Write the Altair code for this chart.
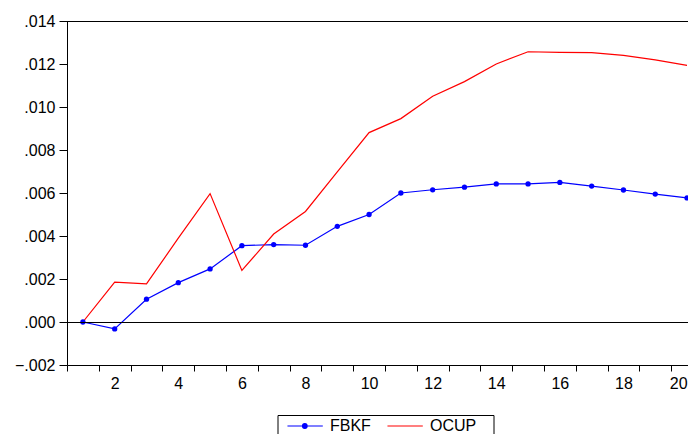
import altair as alt
import pandas as pd

periods = list(range(1, 21))
fbkf = [0.0, -0.00032, 0.00106, 0.00183, 0.00247, 0.00355, 0.00360, 0.00357, 0.00445, 0.00500,
        0.00600, 0.00615, 0.00627, 0.00642, 0.00642, 0.00649, 0.00632, 0.00614, 0.00595, 0.00577]
ocup = [0.0, 0.00185, 0.00177, 0.00390, 0.00597, 0.00240, 0.00409, 0.00514, 0.00698, 0.00881,
        0.00946, 0.01050, 0.01118, 0.01200, 0.01257, 0.01254, 0.01253, 0.01240, 0.01219, 0.01194]
series_names = ["FBKF", "OCUP"]
series_colors = ["#0000FF", "#FF0000"]
y_ticks = [-0.002, 0.0, 0.002, 0.004, 0.006, 0.008, 0.010, 0.012, 0.014]
x_labels = [2, 4, 6, 8, 10, 12, 14, 16, 18, 20]
x_bounds = [0.5 + i for i in range(20)]

df = pd.DataFrame({
    "period": periods * 2,
    "series": ["FBKF"] * 20 + ["OCUP"] * 20,
    "value": fbkf + ocup,
})

FONT = "Liberation Sans"
xscale = alt.Scale(domain=[0.5, 20.03], nice=False, zero=False)
yscale = alt.Scale(domain=[-0.002, 0.014], nice=False, zero=False)
cscale = alt.Scale(domain=series_names, range=series_colors)

sym_fbkf = ("M-0.15,0H4.9 M2.0,0A0.33,0.33 0 1,0 2.66,0A0.33,0.33 0 1,0 2.0,0 "
            "M2.17,0A0.16,0.16 0 1,0 2.49,0A0.16,0.16 0 1,0 2.17,0")
sym_ocup = "M-0.15,0H4.9"
sscale = alt.Scale(domain=series_names, range=[sym_fbkf, sym_ocup])

legend = alt.Legend(
    title=None, orient="none", legendX=210.5, legendY=394, direction="horizontal",
    strokeColor="black", fillColor="white", padding=3, cornerRadius=0,
    symbolSize=196, symbolStrokeWidth=1.2, symbolOpacity=1,
    labelFont=FONT, labelFontSize=16, labelColor="black", labelOffset=33.5,
    columnPadding=9,
    labelExpr="datum.label == 'OCUP' ? 'OCUP\u00a0\u00a0\u00a0\u200b' : datum.label",
)

x_axis = alt.Axis(
    orient="bottom", values=sorted(x_bounds + x_labels), title=None, grid=False,
    domain=True, tickSize=6, labelPadding=4, labelFlush=6, labelOverlap=False,
    tickOpacity={"condition": {"test": "datum.value % 1 == 0", "value": 0}, "value": 1},
    labelExpr="datum.value % 1 == 0 ? format(datum.value, 'd') : ''",
)
y_axis = alt.Axis(orient="left", values=y_ticks, title=None, grid=False,
                  tickSize=8, labelPadding=4, domain=True,
                  labelExpr="replace(format(datum.value, '.3f'), '0.', '.')")
x_enc = alt.X("period:Q", scale=xscale, axis=x_axis)
y_enc = alt.Y("value:Q", scale=yscale, axis=y_axis)
c_enc = alt.Color("series:N", scale=cscale, legend=legend)

base = alt.Chart(df)

lines = base.mark_line(strokeWidth=1.2).encode(x=x_enc, y=y_enc, color=c_enc)

points = base.transform_filter(alt.datum.series == "FBKF").mark_point(
    filled=True, size=28, opacity=1
).encode(x=x_enc, y=y_enc, color=c_enc)

guide_layer = base.mark_point(opacity=0, filled=False).encode(
    x=x_enc, y=y_enc, color=c_enc,
    shape=alt.Shape("series:N", scale=sscale, legend=legend),
)

zero_rule = base.mark_rule(color="black", strokeWidth=1, yOffset=0.5).encode(
    y=alt.YDatum(0, scale=yscale, axis=y_axis)
)
top_rule = base.mark_rule(color="black", strokeWidth=1, yOffset=0.5).encode(
    y=alt.YDatum(0.014, scale=yscale, axis=y_axis)
)

chart = alt.layer(guide_layer, lines, points, zero_rule, top_rule).properties(
    width=621, height=344, autosize="none",
    padding={"left": 59, "top": 13, "right": 0, "bottom": 69},
    background="white",
).configure_view(stroke=None).configure_axis(
    domainColor="black", tickColor="black", labelColor="black",
    labelFont=FONT, labelFontSize=16, domainWidth=1, tickWidth=1,
)

chart.save("out.html", embed_options={"renderer": "svg", "actions": False})
